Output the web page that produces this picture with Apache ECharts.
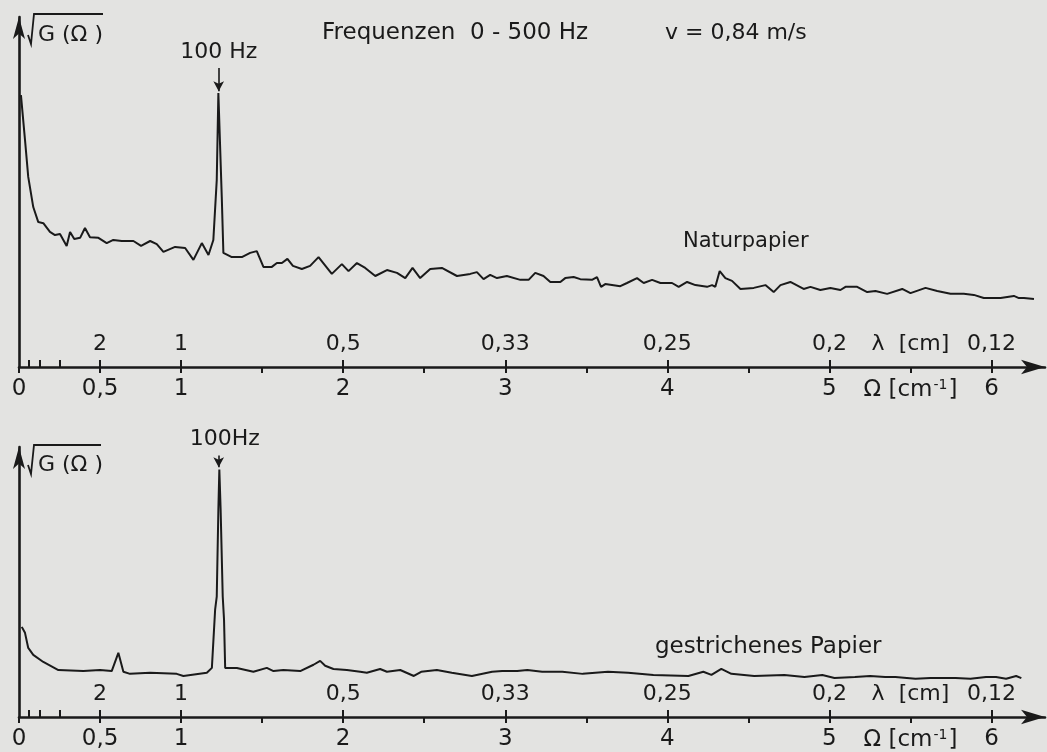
<!DOCTYPE html>
<html>
<head>
<meta charset="utf-8">
<script src="https://cdn.jsdelivr.net/npm/echarts@6/dist/echarts.min.js"></script>
<style>
  html, body { margin: 0; padding: 0; background: #e3e3e1; }
  #chart { width: 1047px; height: 752px; }
</style>
</head>
<body>
<div id="chart"></div>
<script>
// Spatial frequency Ω [cm^-1] and amplitude sqrt(G(Ω)) (relative units), Naturpapier
const naturOmega = [0.012,0.037,0.057,0.088,0.119,0.150,0.191,0.222,0.253,0.294,0.315,0.341,0.377,0.407,0.438,0.490,0.541,0.582,0.634,0.706,0.753,0.809,0.850,0.891,0.963,1.025,1.076,1.128,1.169,1.199,1.220,1.230,1.251,1.261,1.313,1.375,1.426,1.467,1.508,1.560,1.591,1.622,1.656,1.690,1.745,1.796,1.848,1.930,1.992,2.033,2.085,2.136,2.198,2.270,2.332,2.383,2.428,2.475,2.537,2.609,2.702,2.784,2.825,2.866,2.907,2.949,3.010,3.093,3.144,3.185,3.236,3.278,3.340,3.370,3.422,3.463,3.535,3.566,3.591,3.617,3.710,3.751,3.813,3.854,3.906,3.957,4.029,4.070,4.122,4.173,4.245,4.276,4.296,4.323,4.358,4.399,4.451,4.533,4.605,4.656,4.698,4.759,4.841,4.883,4.944,5.006,5.068,5.099,5.171,5.233,5.284,5.356,5.449,5.500,5.593,5.665,5.747,5.829,5.891,5.952,6.056,6.138,6.169,6.200,6.262];
const naturAmp = [77.7,64.9,54.3,45.7,41.4,41.1,38.6,37.7,38.0,34.6,38.6,36.6,36.9,39.7,37.1,36.9,35.4,36.3,36.0,36.0,34.6,36.0,35.1,32.9,34.3,34.0,30.6,35.4,32.0,36.3,53.4,78.3,48.6,32.6,31.4,31.4,32.6,33.1,28.6,28.6,29.7,29.7,30.9,28.9,28.0,28.9,31.4,26.6,29.4,27.4,29.7,28.3,26.0,27.7,26.9,25.4,28.3,25.4,28.0,28.3,26.0,26.6,27.1,25.1,26.3,25.4,26.0,24.9,24.9,26.9,26.0,24.3,24.3,25.4,25.7,25.1,24.9,25.7,22.9,23.7,23.1,24.0,25.4,24.0,24.9,24.0,24.0,22.9,24.3,23.4,22.9,23.4,22.9,27.4,25.4,24.6,22.3,22.6,23.4,21.4,23.4,24.3,22.3,22.9,22.0,22.6,22.0,22.9,22.9,21.4,21.7,20.9,22.3,21.1,22.6,21.7,20.9,20.9,20.6,19.7,19.7,20.3,19.7,19.7,19.4];

// Gestrichenes Papier
const gestrOmega = [0.017,0.037,0.057,0.088,0.150,0.243,0.397,0.500,0.572,0.613,0.644,0.685,0.809,0.973,1.014,1.159,1.190,1.210,1.220,1.230,1.236,1.244,1.257,1.265,1.272,1.344,1.446,1.529,1.570,1.631,1.735,1.817,1.858,1.889,1.940,2.023,2.105,2.146,2.228,2.270,2.352,2.436,2.481,2.578,2.670,2.794,2.919,2.981,3.074,3.136,3.228,3.352,3.478,3.634,3.758,3.914,4.130,4.222,4.272,4.333,4.395,4.536,4.722,4.846,4.956,5.031,5.157,5.251,5.344,5.407,5.531,5.623,5.778,5.870,5.966,6.028,6.090,6.152,6.184];
const gestrAmp = [25.7,24.0,19.7,17.7,15.7,13.4,13.1,13.4,13.1,18.3,12.9,12.3,12.6,12.3,11.7,12.6,14.0,30.6,34.3,59.1,70.6,59.1,34.3,27.7,14.0,14.0,12.9,14.0,13.1,13.4,13.1,14.9,16.0,14.6,13.7,13.4,12.9,12.6,13.7,12.9,13.4,11.7,12.9,13.4,12.6,11.7,12.9,13.1,13.1,13.4,12.9,12.9,12.3,12.9,12.6,12.0,11.7,12.9,12.0,13.7,12.3,11.7,12.0,11.4,12.0,11.1,11.4,11.7,11.4,11.4,10.9,11.1,11.1,10.9,11.4,11.4,10.9,11.7,11.1];

// Ω axis: ticks and labels
const omegaTicks = [0, 0.5, 1, 1.5, 2, 2.5, 3, 3.5, 4, 4.5, 5, 5.5, 6];
const omegaLabelAt = [0, 0.5, 1, 2, 3, 4, 5, 6];
const omegaLabels = ['0', '0,5', '1', '2', '3', '4', '5', '6'];
// λ = 1/Ω scale drawn on the same axis (positions given in Ω)
const lambdaTickAt = [0.0625, 0.125, 0.25, 0.5, 1, 2, 3, 4, 5, 6];
const lambdaLabelAt = [0.5, 1, 2, 3, 4, 5, 6];
const lambdaLabels = ['2', '1', '0,5', '0,33', '0,25', '0,2', '0,12'];
const unitAt = 5.5;

// 100 Hz line
const peakOmega = 1.232;

const FONT = 'DejaVu Sans';
const INK = '#1a1a1a';

function pairs(xs, ys) { return xs.map((x, i) => [x, ys[i]]); }

function omegaAxis(gridIndex) {
  return {
    type: 'value', gridIndex, min: 0, max: 6.33, position: 'bottom',
    splitLine: { show: false },
    axisLine: { onZero: false, lineStyle: { color: INK, width: 2.6 },
      symbol: ['none', 'arrow'], symbolSize: [11, 24], symbolOffset: [0, 0] },
    axisTick: { customValues: omegaTicks, length: 6, lineStyle: { color: INK, width: 2 } },
    axisLabel: {
      customValues: omegaLabelAt.concat([unitAt]), margin: 11,
      color: INK, fontFamily: FONT, fontSize: 23,
      formatter: v => {
        if (v === unitAt) return '{u|Ω [cm}{s|-1}{u|]}';
        const i = omegaLabelAt.indexOf(v);
        return i >= 0 ? omegaLabels[i] : '';
      },
      rich: {
        u: { fontFamily: FONT, fontSize: 23, color: INK },
        s: { fontFamily: FONT, fontSize: 14, color: INK, verticalAlign: 'top', padding: [0, 1, 10, 1] }
      }
    }
  };
}

function lambdaAxis(gridIndex) {
  return {
    type: 'value', gridIndex, min: 0, max: 6.33, position: 'bottom',
    splitLine: { show: false },
    axisLine: { show: false, onZero: false },
    axisTick: { customValues: lambdaTickAt, inside: true, length: 7, lineStyle: { color: INK, width: 2 } },
    axisLabel: {
      customValues: lambdaLabelAt.concat([unitAt]), inside: true, margin: 12,
      color: INK, fontFamily: FONT, fontSize: 22,
      formatter: v => {
        if (v === unitAt) return 'λ  [cm]';
        const i = lambdaLabelAt.indexOf(v);
        return i >= 0 ? lambdaLabels[i] : '';
      }
    }
  };
}

function ampAxis(gridIndex, max) {
  return {
    type: 'value', gridIndex, min: 0, max,
    splitLine: { show: false },
    axisLine: { show: true, lineStyle: { color: INK, width: 2.6 },
      symbol: ['none', 'arrow'], symbolSize: [9, 22], symbolOffset: [0, 0] },
    axisTick: { show: false },
    axisLabel: { show: false },
    name: 'G (Ω )', nameLocation: 'end', nameGap: -18,
    nameTextStyle: { align: 'left', verticalAlign: 'middle', padding: [0, 0, 0, 19],
      color: INK, fontFamily: FONT, fontSize: 22 }
  };
}

function peakMark(start, end, text, dx) {
  return {
    silent: true, animation: false,
    symbol: ['none', 'arrow'], symbolSize: [8, 10],
    lineStyle: { color: INK, width: 1.6, type: 'solid' },
    label: { show: true, position: 'start', formatter: text, distance: 5, offset: [dx, 0],
      color: INK, fontFamily: FONT, fontSize: 22 },
    data: [[{ coord: [peakOmega, start] }, { coord: [peakOmega, end] }]]
  };
}

// radical sign with overline over G(Ω)
function radical(yTop, yBottom, xEnd) {
  return {
    type: 'polyline',
    shape: { points: [[28, yBottom - 9], [31, yBottom], [34, yTop], [xEnd, yTop]] },
    style: { stroke: INK, lineWidth: 1.8, fill: null }
  };
}

const chart = echarts.init(document.getElementById('chart'), null, { renderer: 'canvas' });
chart.setOption({
  animation: false,
  backgroundColor: '#e3e3e1',
  textStyle: { fontFamily: FONT, color: INK },
  grid: [
    { left: 19, right: 2, top: 17, bottom: 385, outerBoundsMode: 'none' },
    { left: 19, right: 2, top: 447, bottom: 35, outerBoundsMode: 'none' }
  ],
  xAxis: [omegaAxis(0), lambdaAxis(0), omegaAxis(1), lambdaAxis(1)],
  yAxis: [ampAxis(0, 100), ampAxis(1, 77)],
  series: [
    {
      name: 'Naturpapier', type: 'line', xAxisIndex: 0, yAxisIndex: 0,
      data: pairs(naturOmega, naturAmp), showSymbol: false,
      lineStyle: { color: INK, width: 2 },
      markLine: peakMark(85.4, 78.8, '100 Hz', 0)
    },
    {
      name: 'gestrichenes Papier', type: 'line', xAxisIndex: 2, yAxisIndex: 1,
      data: pairs(gestrOmega, gestrAmp), showSymbol: false,
      lineStyle: { color: INK, width: 2 },
      markLine: peakMark(74.6, 71.2, '100Hz', 6)
    }
  ],
  graphic: [
    { type: 'text', left: 322, top: 22, style: { text: 'Frequenzen  0 - 500 Hz', font: '23px "DejaVu Sans"', fill: INK } },
    { type: 'text', left: 665, top: 22, style: { text: 'v = 0,84 m/s', font: '22px "DejaVu Sans"', fill: INK } },
    { type: 'text', left: 683, top: 231, style: { text: 'Naturpapier', font: '21px "DejaVu Sans"', fill: INK } },
    { type: 'text', left: 655, top: 636, style: { text: 'gestrichenes Papier', font: '23px "DejaVu Sans"', fill: INK } },
    radical(14, 44, 103),
    radical(445, 474, 101)
  ]
});
</script>
</body>
</html>
